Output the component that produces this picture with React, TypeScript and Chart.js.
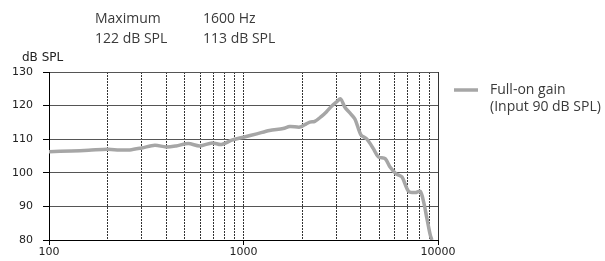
import React, { useEffect, useRef } from "react";
import { Chart, registerables } from "chart.js";

Chart.register(...registerables);

// Frequency (Hz) and full-on gain (dB SPL)
const freqs = [
  100, 130, 160, 200, 230, 260, 300, 350, 400, 450, 520, 595, 690, 770, 870,
  1000, 1170, 1360, 1600, 1730, 1950, 2064, 2192, 2325, 2518, 2673, 2836,
  3010, 3155, 3322, 3523, 3739, 4015, 4300, 4651, 4940, 5350, 5670, 6090,
  6520, 7060, 7640, 8100, 8430, 8770, 9120, 9300,
];
const gain = [
  106.3, 106.5, 106.7, 107.0, 106.8, 106.8, 107.4, 108.2, 107.7, 108.0, 108.7,
  108.0, 108.9, 108.4, 109.7, 110.6, 111.6, 112.6, 113.2, 113.8, 113.6, 114.3,
  115.1, 115.3, 116.8, 118.2, 119.8, 121.1, 122.0, 119.5, 117.8, 116.0, 111.3,
  110.1, 107.2, 104.7, 104.2, 101.7, 99.7, 98.8, 94.5, 94.1, 94.5, 91.4, 86.4,
  81.5, 80.0,
];

// Gridline frequencies and labelled frequencies
const gridFreqs = [
  100, 200, 300, 400, 500, 600, 700, 800, 900,
  1000, 2000, 3000, 4000, 5000, 6000, 7000, 8000, 9000, 10000,
];
const xTickLabels = [100, 1000, 10000];
const yMin = 80;
const yMax = 130;
const yStep = 10;
const yTitle = "dB SPL";
const legendLines = ["Full-on gain", "(Input 90 dB SPL)"];
const annotationMax = ["Maximum", "122 dB SPL"];
const annotation1600 = ["1600 Hz", "113 dB SPL"];

const LINE_COLOR = "#a6a6a6";
const TEXT_COLOR = "#3a3a3a";
const TICK_FONT = "DejaVu Sans";
const TEXT_FONT = "'Open Sans'";

const textPlugin = {
  id: "extraText",
  afterDraw(chart: any) {
    const ctx = chart.ctx;
    const area = chart.chartArea;
    ctx.save();
    // y title
    ctx.fillStyle = "#222";
    ctx.font = `12px ${TICK_FONT}`;
    ctx.textAlign = "left";
    ctx.textBaseline = "middle";
    ctx.fillText(yTitle, 22, area.top - 14);

    // annotations
    ctx.fillStyle = TEXT_COLOR;
    ctx.font = `14px ${TEXT_FONT}`;
    ctx.textBaseline = "alphabetic";
    annotationMax.forEach((t, i) => ctx.fillText(t, 95, 23 + i * 20));
    annotation1600.forEach((t, i) => ctx.fillText(t, 203, 23 + i * 20));

    // legend
    const ds = chart.data.datasets[0];
    const lx = area.right + 16;
    const ly = area.top + 18;
    ctx.strokeStyle = ds.borderColor;
    ctx.lineWidth = 3.5;
    ctx.beginPath();
    ctx.moveTo(lx, ly);
    ctx.lineTo(lx + 24, ly);
    ctx.stroke();
    legendLines.forEach((t, i) => ctx.fillText(t, lx + 36, ly + 4 + i * 17));
    ctx.restore();
  },
};

export default function App() {
  const ref = useRef<HTMLCanvasElement>(null);
  useEffect(() => {
    if (!ref.current) return;
    const chart = new Chart(ref.current, {
      type: "line",
      data: {
        datasets: [
          {
            label: legendLines.join(" "),
            data: freqs.map((f, i) => ({ x: f, y: gain[i] })),
            borderColor: LINE_COLOR,
            borderWidth: 3.5,
            pointRadius: 0,
            tension: 0.3,
            fill: false,
          },
        ],
      },
      options: {
        responsive: false,
        animation: false,
        layout: { padding: { left: 0, right: 167, top: 72, bottom: 0 } },
        plugins: { legend: { display: false }, tooltip: { enabled: false } },
        scales: {
          x: {
            type: "logarithmic",
            min: 100,
            max: 10000,
            afterBuildTicks: (s: any) => {
              s.ticks = gridFreqs.map((v) => ({ value: v }));
            },
            afterFit: (s: any) => {
              s.height = 21;
            },
            grid: {
              color: "#333",
              lineWidth: 1,
              tickLength: 5,
              tickColor: (c: any) =>
                c.tick && xTickLabels.includes(c.tick.value) ? "#000" : "rgba(0,0,0,0)",
            },
            border: {
              color: "#000",
              width: 1,
              dash: (c: any) => (c.tick && c.tick.value === 10000 ? [] : [2, 1]),
            },
            ticks: {
              autoSkip: false,
              maxRotation: 0,
              padding: 1,
              color: "#222",
              font: { family: TICK_FONT, size: 11 },
              callback: (v: any) => (xTickLabels.includes(Number(v)) ? String(v) : ""),
            },
          },
          y: {
            min: yMin,
            max: yMax,
            afterFit: (s: any) => {
              s.width = 49;
            },
            grid: { color: "#555", lineWidth: 1, tickLength: 6, tickColor: "#000" },
            border: { color: "#000", width: 1 },
            ticks: {
              stepSize: yStep,
              padding: 10,
              color: "#222",
              font: { family: TICK_FONT, size: 11 },
            },
          },
        },
      },
      plugins: [textPlugin],
    });
    return () => chart.destroy();
  }, []);
  return (
    <div style={{ position: "absolute", left: 0, top: 0, width: 605, height: 261 }}>
      <canvas ref={ref} width={605} height={261} />
    </div>
  );
}
